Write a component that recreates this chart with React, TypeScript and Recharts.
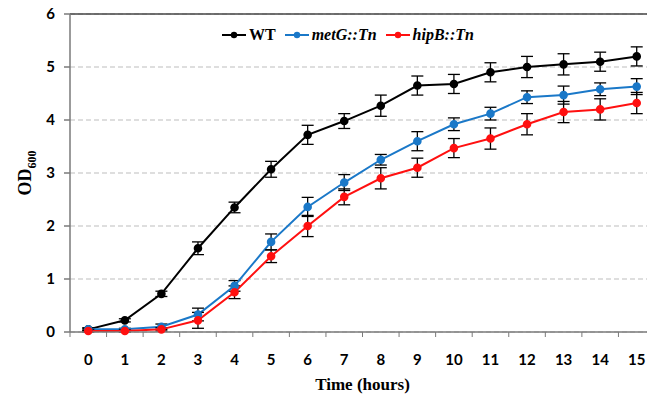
import React from 'react';
import { LineChart, Line, XAxis, YAxis, CartesianGrid, ErrorBar, Legend, ReferenceLine } from 'recharts';

const hours = [0, 1, 2, 3, 4, 5, 6, 7, 8, 9, 10, 11, 12, 13, 14, 15];
const wt = [0.05, 0.22, 0.72, 1.58, 2.35, 3.07, 3.72, 3.98, 4.27, 4.65, 4.68, 4.9, 5.0, 5.05, 5.1, 5.2];
const wtErr = [0.03, 0.03, 0.05, 0.12, 0.1, 0.15, 0.18, 0.14, 0.2, 0.18, 0.18, 0.18, 0.2, 0.2, 0.18, 0.18];
const metG = [0.05, 0.05, 0.1, 0.33, 0.87, 1.7, 2.36, 2.82, 3.25, 3.6, 3.92, 4.12, 4.43, 4.47, 4.58, 4.63];
const metGErr = [0.02, 0.02, 0.05, 0.12, 0.1, 0.15, 0.18, 0.15, 0.1, 0.18, 0.12, 0.12, 0.12, 0.17, 0.12, 0.15];
const hipB = [0.02, 0.02, 0.05, 0.22, 0.75, 1.43, 2.0, 2.55, 2.9, 3.1, 3.47, 3.65, 3.92, 4.15, 4.2, 4.32];
const hipBErr = [0.02, 0.02, 0.03, 0.15, 0.12, 0.12, 0.2, 0.15, 0.2, 0.18, 0.18, 0.2, 0.2, 0.2, 0.2, 0.2];
const yTicks = [0, 1, 2, 3, 4, 5, 6];

const data = hours.map((t, i) => ({
  t,
  wt: wt[i],
  wtErr: wtErr[i],
  metG: metG[i],
  metGErr: metGErr[i],
  hipB: hipB[i],
  hipBErr: hipBErr[i],
}));

const CHART_W = 656;
const CHART_H = 399;
const Y_AXIS_W = 70;
const RIGHT = 1;
const HALF_BAND = (CHART_W - Y_AXIS_W - RIGHT) / hours.length / 2;
const BLUE = '#1a78c8';
const RED = '#ff1010';
const AXIS = '#7a7a7a';

const XTick = (props: any) => {
  const { x, y, payload, index } = props;
  return (
    <g>
      <line x1={x - HALF_BAND} y1={y} x2={x - HALF_BAND} y2={y + 5} stroke={AXIS} />
      {index === hours.length - 1 && (
        <line x1={x + HALF_BAND} y1={y} x2={x + HALF_BAND} y2={y + 5} stroke={AXIS} />
      )}
      <text x={x} y={y + 33} textAnchor="middle" fontFamily="Lato" fontWeight="bold" fontSize={15} fill="#000">
        {payload.value}
      </text>
    </g>
  );
};

const YLabel = () => (
  <text x={0} y={0} transform="translate(31,173) rotate(-90)" textAnchor="middle" fontFamily="'Liberation Serif', serif" fontWeight="bold" fontSize={18} fill="#000">
    OD<tspan fontSize={12} dy={5}>600</tspan>
  </text>
);

const legendItems = [
  { name: 'WT', color: '#000', italic: false },
  { name: 'metG::Tn', color: BLUE, italic: true },
  { name: 'hipB::Tn', color: RED, italic: true },
];

const LegendContent = () => (
  <div style={{ display: 'flex', alignItems: 'center', fontFamily: "'Liberation Serif', serif", fontWeight: 'bold', fontSize: 16 }}>
    {legendItems.map((it) => (
      <div key={it.name} style={{ display: 'flex', alignItems: 'center', marginRight: 9 }}>
        <svg width={24} height={10} style={{ marginRight: 3 }}>
          <line x1={0} y1={5} x2={24} y2={5} stroke={it.color} strokeWidth={2} />
          <circle cx={12} cy={5} r={3.2} fill={it.color} />
        </svg>
        <span style={{ fontStyle: it.italic ? 'italic' : 'normal' }}>{it.name}</span>
      </div>
    ))}
  </div>
);

export default function App() {
  return (
    <div style={{ width: 647, height: CHART_H, overflow: 'hidden', background: '#fff' }}>
      <style>{'body{margin:0}'}</style>
      <LineChart width={CHART_W} height={CHART_H} data={data} margin={{ top: 14, right: RIGHT, left: 0, bottom: 0 }}>
        <CartesianGrid vertical={false} stroke="#bdbdbd" strokeDasharray="5 3" />
        <ReferenceLine y={6} stroke="#444" strokeWidth={1.5} />
        <XAxis
          dataKey="t"
          type="number"
          domain={[-0.5, 15.5]}
          ticks={hours}
          interval={0}
          height={67}
          tickLine={false}
          tickSize={0}
          tickMargin={0}
          stroke={AXIS}
          strokeWidth={1.5}
          tick={<XTick />}
          label={{ value: 'Time (hours)', position: 'insideBottom', offset: 9, fontFamily: "'Liberation Serif', serif", fontWeight: 'bold', fontSize: 17, fill: '#000' }}
        />
        <YAxis
          type="number"
          domain={[0, 6]}
          ticks={yTicks}
          width={Y_AXIS_W}
          tickSize={6}
          tickMargin={9}
          stroke={AXIS}
          strokeWidth={1.5}
          tick={{ fontFamily: 'Lato', fontWeight: 'bold', fontSize: 15, fill: '#000' }}
          label={{ content: <YLabel /> }}
        />
        <Legend
          layout="horizontal"
          verticalAlign="middle"
          align="center"
          wrapperStyle={{ top: 26, left: 222, width: 'auto' }}
          content={<LegendContent />}
        />
        <Line dataKey="wt" name="WT" stroke="#000" strokeWidth={2} dot={{ r: 3.3, fill: '#000', stroke: '#000' }} isAnimationActive={false}>
          <ErrorBar dataKey="wtErr" width={6} stroke="#000" strokeWidth={1.3} direction="y" />
        </Line>
        <Line dataKey="metG" name="metG::Tn" stroke={BLUE} strokeWidth={2} dot={{ r: 3.3, fill: BLUE, stroke: BLUE }} isAnimationActive={false}>
          <ErrorBar dataKey="metGErr" width={6} stroke="#000" strokeWidth={1.3} direction="y" />
        </Line>
        <Line dataKey="hipB" name="hipB::Tn" stroke={RED} strokeWidth={2} dot={{ r: 3.3, fill: RED, stroke: RED }} isAnimationActive={false}>
          <ErrorBar dataKey="hipBErr" width={6} stroke="#000" strokeWidth={1.3} direction="y" />
        </Line>
      </LineChart>
    </div>
  );
}
